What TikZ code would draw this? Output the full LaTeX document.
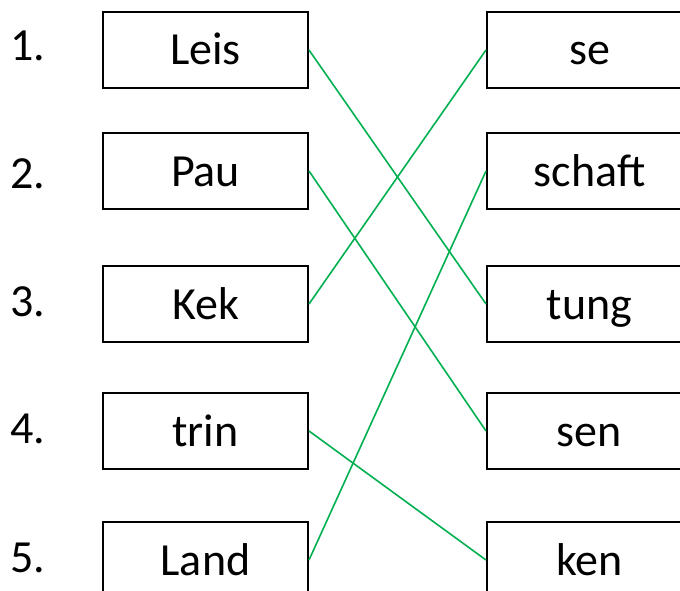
\documentclass[tikz,border=0pt]{standalone}
\usepackage{fontspec}
\setmainfont{Carlito}
\definecolor{linegreen}{RGB}{0,176,80}
\tikzset{
  wordbox/.style={draw=black, line width=2pt, minimum width=205pt, minimum height=76pt,
    inner sep=0pt, text height=36pt, text depth=6pt,
    font=\fontsize{46}{55}\selectfont},
  numlabel/.style={anchor=west, inner sep=0pt, font=\fontsize{46}{55}\selectfont},
  link/.style={draw=linegreen, line width=1.6pt}
}
\begin{document}
\begin{tikzpicture}[x=1pt, y=-1pt]
\useasboundingbox (0,0) rectangle (680,591);
\clip (0,0) rectangle (680,591);
% numbers
\node[numlabel] (n1) at (10,46) {1.};
\node[numlabel] (n2) at (10,174) {2.};
\node[numlabel] (n3) at (10,302) {3.};
\node[numlabel] (n4) at (10,429) {4.};
\node[numlabel] (n5) at (10,558) {5.};
% left boxes
\node[wordbox] (l1) at (205.5,50) {Leis};
\node[wordbox] (l2) at (205.5,171) {Pau};
\node[wordbox] (l3) at (205.5,304) {Kek};
\node[wordbox] (l4) at (205.5,431) {trin};
\node[wordbox] (l5) at (205.5,560) {Land};
% right boxes
\node[wordbox] (r1) at (589.5,50) {se};
\node[wordbox] (r2) at (589.5,171) {schaft};
\node[wordbox] (r3) at (589.5,304) {tung};
\node[wordbox] (r4) at (589.5,431) {sen};
\node[wordbox] (r5) at (589.5,560) {ken};
% links
\draw[link] (l1.east) -- (r3.west);
\draw[link] (l2.east) -- (r4.west);
\draw[link] (l3.east) -- (r1.west);
\draw[link] (l4.east) -- (r5.west);
\draw[link] (l5.east) -- (r2.west);
\end{tikzpicture}
\end{document}
